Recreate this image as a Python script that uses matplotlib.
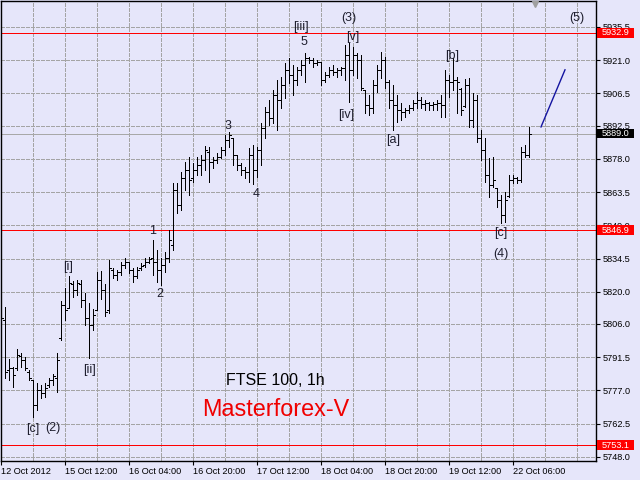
import matplotlib
matplotlib.use('Agg')
import matplotlib.pyplot as plt
import matplotlib.transforms as mtransforms
from matplotlib.patches import Rectangle

plt.rcParams['font.family'] = ['Liberation Sans', 'DejaVu Sans']

# ---------------- data (FTSE 100, H1) ----------------
highs = [
    5825.2, 5813.4, 5790.8, 5787.3, 5795.1, 5793.4, 5791.6, 5786.0, 5781.6, 5780.3,
    5779.4, 5780.3, 5782.5, 5784.2, 5793.4, 5816.1, 5821.7, 5827.0, 5824.8, 5825.2,
    5825.2, 5819.6, 5815.2, 5812.6, 5828.7, 5829.1, 5823.5, 5833.9, 5830.5, 5829.6,
    5833.1, 5834.8, 5833.1, 5830.5, 5830.9, 5832.6, 5834.8, 5835.2, 5842.7, 5838.3,
    5834.8, 5837.4, 5847.0, 5867.5, 5867.5, 5872.3, 5876.7, 5878.8, 5876.2, 5878.8,
    5879.7, 5883.6, 5883.2, 5878.8, 5880.6, 5883.2, 5888.4, 5889.7, 5887.1, 5879.7,
    5876.2, 5874.5, 5882.8, 5884.1, 5883.2, 5893.7, 5900.6, 5903.7, 5908.1, 5912.4,
    5913.7, 5919.8, 5922.0, 5919.0, 5918.1, 5921.1, 5924.2, 5922.4, 5922.0, 5921.1,
    5920.3, 5915.9, 5918.1, 5919.0, 5917.7, 5918.1, 5927.7, 5928.6, 5926.8, 5924.2,
    5923.3, 5908.1, 5905.9, 5912.4, 5919.0, 5924.6, 5922.4, 5912.4, 5910.2, 5905.9,
    5902.4, 5900.2, 5901.5, 5903.7, 5907.2, 5905.0, 5903.7, 5902.8, 5902.8, 5903.7,
    5905.9, 5916.8, 5914.6, 5922.0, 5913.7, 5908.9, 5912.9, 5913.3, 5906.8, 5905.9,
    5890.6, 5887.1, 5878.4, 5878.8, 5865.3, 5862.3, 5863.6, 5871.0, 5871.0, 5870.1,
    5883.2, 5884.1, 5891.9]

lows = [
    5807.8, 5782.5, 5781.6, 5778.6, 5786.0, 5787.3, 5786.0, 5781.6, 5765.5, 5768.5,
    5773.8, 5774.2, 5778.6, 5779.4, 5776.4, 5799.1, 5807.8, 5813.0, 5817.8, 5818.7,
    5813.4, 5805.6, 5791.2, 5803.4, 5812.1, 5816.9, 5809.5, 5810.8, 5826.1, 5825.2,
    5827.4, 5830.5, 5828.3, 5824.3, 5826.1, 5829.6, 5830.9, 5832.6, 5827.4, 5824.3,
    5823.0, 5828.7, 5833.1, 5838.3, 5854.4, 5855.7, 5864.5, 5862.3, 5867.9, 5871.0,
    5871.0, 5873.2, 5867.9, 5874.1, 5876.2, 5878.4, 5879.7, 5883.2, 5875.4, 5873.2,
    5871.0, 5869.7, 5867.9, 5867.1, 5870.1, 5875.4, 5887.1, 5892.8, 5893.7, 5890.6,
    5900.2, 5904.6, 5911.1, 5905.9, 5910.2, 5914.6, 5911.5, 5919.8, 5918.1, 5919.0,
    5910.2, 5911.5, 5913.7, 5914.6, 5913.7, 5914.6, 5912.4, 5902.8, 5914.6, 5913.3,
    5908.1, 5898.0, 5897.2, 5898.0, 5907.2, 5913.3, 5908.9, 5900.2, 5890.6, 5894.1,
    5895.0, 5896.3, 5898.0, 5899.3, 5900.2, 5900.2, 5899.3, 5899.3, 5899.3, 5899.3,
    5896.3, 5896.3, 5905.0, 5908.1, 5898.0, 5897.2, 5900.6, 5891.9, 5891.9, 5885.4,
    5877.5, 5867.9, 5861.4, 5865.8, 5857.0, 5850.1, 5850.5, 5861.4, 5867.5, 5867.5,
    5867.9, 5878.8, 5878.8]

opens = [
    5823.0, 5807.8, 5786.0, 5786.9, 5786.9, 5792.1, 5790.3, 5785.1, 5781.6, 5770.7,
    5777.3, 5776.0, 5779.4, 5781.6, 5782.5, 5799.9, 5814.3, 5813.0, 5823.5, 5820.9,
    5823.5, 5816.5, 5808.7, 5805.6, 5812.1, 5825.2, 5820.9, 5812.1, 5829.6, 5827.4,
    5828.7, 5831.8, 5833.1, 5829.6, 5827.0, 5830.5, 5831.8, 5833.1, 5834.8, 5833.1,
    5829.6, 5831.8, 5834.8, 5840.5, 5864.5, 5857.9, 5869.7, 5873.2, 5869.7, 5873.2,
    5875.4, 5877.5, 5881.0, 5876.7, 5877.5, 5878.8, 5881.9, 5886.3, 5887.0, 5879.7,
    5875.4, 5873.2, 5872.3, 5879.7, 5873.2, 5881.9, 5891.5, 5898.5, 5895.9, 5905.9,
    5903.7, 5910.2, 5916.8, 5914.6, 5912.4, 5916.8, 5919.0, 5922.0, 5921.1, 5919.8,
    5920.3, 5912.4, 5914.6, 5916.8, 5915.9, 5916.8, 5917.7, 5923.3, 5916.8, 5923.3,
    5921.1, 5908.1, 5901.5, 5900.2, 5910.2, 5916.8, 5921.1, 5911.5, 5903.7, 5901.5,
    5899.3, 5898.5, 5899.3, 5900.2, 5902.4, 5903.7, 5902.0, 5902.4, 5901.5, 5902.0,
    5902.4, 5901.5, 5912.4, 5911.5, 5912.4, 5908.5, 5901.0, 5910.2, 5895.0, 5903.7,
    5887.1, 5881.9, 5871.0, 5866.6, 5865.3, 5860.1, 5853.6, 5862.0, 5868.8, 5869.7,
    5868.8, 5881.0, 5879.7]

closes = [
    5808.7, 5785.1, 5786.9, 5783.8, 5792.5, 5790.3, 5786.9, 5782.5, 5770.7, 5777.3,
    5776.0, 5778.1, 5781.6, 5783.4, 5790.3, 5814.3, 5812.1, 5823.9, 5820.9, 5823.9,
    5816.5, 5808.7, 5805.6, 5810.0, 5825.2, 5820.9, 5811.3, 5830.5, 5827.4, 5828.7,
    5831.8, 5833.1, 5829.6, 5827.0, 5829.6, 5831.3, 5833.1, 5834.4, 5833.1, 5829.6,
    5831.8, 5834.8, 5842.7, 5864.5, 5857.9, 5869.7, 5873.2, 5868.8, 5873.2, 5875.4,
    5877.5, 5881.9, 5876.7, 5877.5, 5878.8, 5881.9, 5886.3, 5888.4, 5879.7, 5875.4,
    5873.2, 5872.3, 5879.7, 5873.2, 5881.9, 5891.5, 5898.5, 5895.9, 5905.9, 5903.7,
    5910.2, 5916.8, 5914.6, 5912.4, 5916.8, 5919.0, 5922.0, 5921.1, 5919.8, 5920.3,
    5912.4, 5914.6, 5916.8, 5915.9, 5916.8, 5917.7, 5923.3, 5916.8, 5923.3, 5921.1,
    5908.9, 5901.5, 5900.2, 5910.2, 5916.8, 5921.1, 5911.5, 5903.7, 5901.5, 5899.3,
    5898.5, 5899.3, 5900.2, 5902.4, 5903.7, 5902.0, 5902.4, 5901.5, 5902.0, 5902.4,
    5901.5, 5912.4, 5911.5, 5912.4, 5911.5, 5899.3, 5910.2, 5895.0, 5903.7, 5887.1,
    5881.9, 5871.0, 5866.6, 5868.8, 5860.1, 5853.6, 5860.1, 5868.8, 5869.7, 5868.8,
    5881.0, 5879.7, 5889.0]

price_ticks = [5748.0, 5762.5, 5777.0, 5791.5, 5806.0, 5820.0, 5834.5,
               5849.0, 5863.5, 5878.0, 5892.5, 5906.5, 5921.0, 5935.5]
date_labels = ['12 Oct 2012', '15 Oct 12:00', '16 Oct 04:00', '16 Oct 20:00',
               '17 Oct 12:00', '18 Oct 04:00', '18 Oct 20:00', '19 Oct 12:00',
               '22 Oct 06:00']
date_bars = [0, 16, 32, 48, 64, 80, 96, 112, 128]
grid_bars = [8, 16, 24, 32, 40, 48, 56, 64, 72, 80, 88, 96, 104, 112, 120, 128, 136, 144]

red_levels = [5932.9, 5846.9, 5753.1]
current_price = 5889.0

proj_x = [135, 141]
proj_y = [5891.9, 5916.8]

wave_text = ['(3)', '[iii]', '5', '[v]', '[iv]', '[a]', '[b]', '(5)', '[c]', '(4)',
             '3', '4', '1', '2', '[i]', '[ii]', '[c]', '(2)']
wave_x = [87.0, 74.9, 75.75, 87.9, 86.2, 98.0, 112.9, 144.0, 124.95, 124.9,
          56.8, 63.75, 38.0, 39.8, 16.8, 22.0, 8.0, 12.9]
wave_y = [5939.3, 5935.6, 5929.1, 5931.0, 5897.2, 5886.3, 5922.9, 5939.3, 5845.7, 5836.5,
          5892.3, 5862.5, 5846.5, 5819.1, 5830.9, 5786.0, 5760.2, 5760.6]

BG = '#E6E6FA'
INK = '#1e1e2e'
GRID = '#a4a4a4'

# ---------------- figure ----------------
fig = plt.figure(figsize=(6.4, 4.8), dpi=100, facecolor=BG)
ax = fig.add_axes([1 / 640, 19 / 480, 595 / 640, 460 / 480])
ax.set_facecolor(BG)
ax.set_xlim(0, 148.75)
ax.set_ylim(5746.25, 5946.8)

for sp in ax.spines.values():
    sp.set_color('black')
    sp.set_linewidth(1.0)

# grid
for gb in grid_bars:
    ax.axvline(gb, color=GRID, lw=0.72, ls=(0, (3, 2)), antialiased=False, zorder=0.5)
for pt in price_ticks:
    ax.axhline(pt, color=GRID, lw=0.72, ls=(0, (3, 2)), antialiased=False, zorder=0.5)

# level lines
for lv in red_levels:
    ax.axhline(lv, color='#ff0000', lw=0.72, antialiased=False, zorder=1)
ax.axhline(current_price, color='#a8a8a8', lw=0.72, antialiased=False, zorder=1)

# OHLC bars
idx = list(range(len(highs)))
ax.vlines(idx, lows, highs, color='black', lw=0.5, antialiased=False, zorder=3)
ax.hlines(opens, [i - 0.5 for i in idx], idx, color='black', lw=0.5,
          antialiased=False, zorder=3)
ax.hlines(closes, idx, [i + 0.5 for i in idx], color='black', lw=0.5,
          antialiased=False, zorder=3)

# projection line
ax.plot(proj_x, proj_y, color='#1414a0', lw=1.0, zorder=3)

# wave labels
for s, x, y in zip(wave_text, wave_x, wave_y):
    ax.text(x, y, s, ha='center', va='center', fontsize=9, color=INK, zorder=4)

# titles in the chart
ax.text(0.4615, 0.176, 'FTSE 100, 1h', transform=ax.transAxes, ha='center',
        va='center', fontsize=11.5, color='black')
ax.text(0.4615, 0.113, 'Masterforex-V', transform=ax.transAxes, ha='center',
        va='center', fontsize=16.8, color='#f00000')

# shift marker
ax.plot([133.5], [0.9935], marker='v', ms=5, color='#a0a0a0', mec='#a0a0a0',
        transform=mtransforms.blended_transform_factory(ax.transData, ax.transAxes),
        clip_on=False, zorder=5)

# axes ticks
ax.yaxis.tick_right()
ax.set_yticks(price_ticks)
ax.set_yticklabels([f'{v:.1f}' for v in price_ticks])
ax.tick_params(axis='y', length=3, width=0.8, pad=2, labelsize=6.6,
               colors='black', direction='out')
ax.set_xticks(date_bars)
ax.set_xticklabels(date_labels, ha='left')
ax.tick_params(axis='x', length=3, width=0.8, pad=1.5, labelsize=6.6,
               colors='black', direction='out')

# price boxes on the right scale
trans = mtransforms.blended_transform_factory(ax.transAxes, ax.transData)
box_w = 37 / 595
box_levels = red_levels + [current_price]
box_colors = ['#ff0000', '#ff0000', '#ff0000', '#000000']
for lv, bc in zip(box_levels, box_colors):
    ax.add_patch(Rectangle((1 + 1 / 595, lv - 2.1), box_w, 4.2, transform=trans,
                           facecolor=bc, edgecolor='none', clip_on=False, zorder=10))
    ax.text(1 + 19.5 / 595, lv, f'{lv:.1f}', transform=trans, ha='center',
            va='center', fontsize=6.6, color='white', zorder=11, clip_on=False)

fig.savefig('out.png', dpi=100, facecolor=BG)
